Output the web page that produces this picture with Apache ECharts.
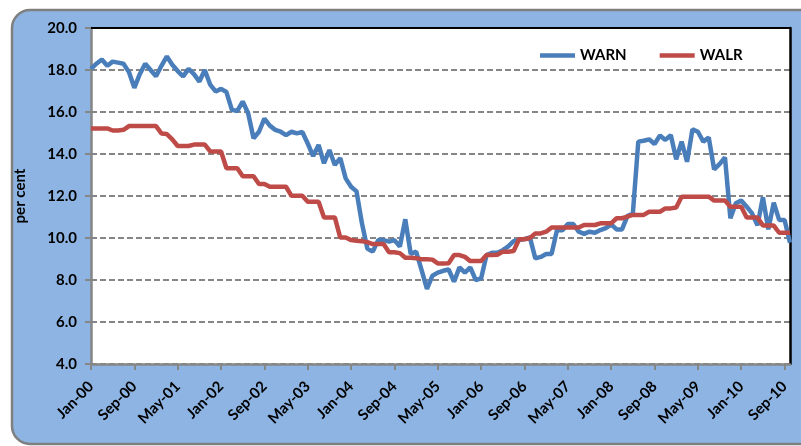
<!DOCTYPE html>
<html>
<head>
<meta charset="utf-8">
<script src="https://cdn.jsdelivr.net/npm/echarts@6/dist/echarts.min.js"></script>
<style>
  html, body { margin: 0; padding: 0; background: #ffffff; }
  #chart { width: 801px; height: 446px; }
</style>
</head>
<body>
<div id="chart"></div>
<script>
// Monthly series, January 2000 to October 2010 (per cent)
const monthNames = ['Jan','Feb','Mar','Apr','May','Jun','Jul','Aug','Sep','Oct','Nov','Dec'];
const startYear = 2000;
const monthCount = 130;

const warn = [
  18.05,18.3,18.5,18.2,18.4,18.35,18.3,17.9,17.15,17.8,18.3,18.0,
  17.7,18.2,18.65,18.25,17.95,17.7,18.05,17.8,17.45,18.0,17.3,16.98,
  17.1,16.95,16.1,16.05,16.5,15.94,14.75,15.06,15.68,15.35,15.15,15.06,
  14.9,15.06,14.98,15.05,14.5,13.9,14.43,13.56,14.19,13.48,13.8,12.84,
  12.44,12.22,10.7,9.5,9.35,9.9,9.9,9.83,9.9,9.59,10.89,9.24,
  9.35,8.48,7.58,8.2,8.35,8.44,8.5,7.92,8.6,8.35,8.6,8.0,
  8.08,9.19,9.3,9.3,9.42,9.6,9.85,9.9,9.95,10.03,9.03,9.1,
  9.24,9.24,10.38,10.37,10.67,10.67,10.3,10.2,10.3,10.25,10.38,10.47,
  10.65,10.41,10.41,11.05,11.17,14.59,14.63,14.7,14.48,14.88,14.67,14.9,
  13.75,14.59,13.63,15.17,15.06,14.59,14.79,13.27,13.52,13.84,10.94,11.65,
  11.78,11.49,11.17,10.6,11.94,10.41,11.68,10.86,10.86,9.78
];

const walr = [
  15.22,15.22,15.22,15.22,15.12,15.12,15.15,15.33,15.33,15.33,15.33,15.33,
  15.33,14.98,14.95,14.7,14.38,14.38,14.38,14.45,14.45,14.45,14.12,14.12,
  14.12,13.32,13.32,13.32,12.94,12.94,12.94,12.57,12.57,12.44,12.44,12.44,
  12.44,12.01,12.01,12.01,11.73,11.73,11.73,10.98,10.98,10.98,10.02,10.02,
  9.9,9.87,9.85,9.8,9.71,9.71,9.71,9.32,9.32,9.28,9.06,9.06,
  9.04,8.99,8.99,8.97,8.79,8.79,8.8,9.19,9.19,9.1,8.9,8.9,
  8.9,9.19,9.19,9.2,9.35,9.35,9.38,9.94,9.94,10.0,10.22,10.22,
  10.3,10.5,10.5,10.5,10.5,10.5,10.5,10.62,10.62,10.62,10.7,10.7,
  10.7,10.94,10.94,11.02,11.1,11.1,11.1,11.25,11.25,11.25,11.41,11.41,
  11.45,11.97,11.97,11.97,11.97,11.97,11.97,11.78,11.78,11.78,11.49,11.49,
  11.49,10.98,10.98,10.98,10.59,10.59,10.59,10.25,10.25,10.25
];

const seriesNames = ['WARN', 'WALR'];
const seriesColors = ['#4A7EBB', '#BE4B48'];
const yTicks = { min: 4, max: 20, step: 2 };

// "Jan-00", "Feb-00", ...
const categories = [];
for (let i = 0; i < monthCount; i++) {
  const y = startYear + Math.floor(i / 12);
  categories.push(monthNames[i % 12] + '-' + String(y % 100).padStart(2, '0'));
}

const FONT = 'Lato, "Liberation Sans", sans-serif';
const chart = echarts.init(document.getElementById('chart'), null, { renderer: 'canvas' });

chart.setOption({
  animation: false,
  backgroundColor: '#ffffff',
  graphic: [{
    type: 'rect',
    z: -10,
    silent: true,
    shape: { x: 12, y: 10, width: 820, height: 434, r: 18 },
    style: { fill: '#8DB4E2', stroke: '#7F7F7F', lineWidth: 2.5 }
  }],
  grid: {
    left: 91, right: 11, top: 28, bottom: 82,
    show: true, backgroundColor: '#ffffff', borderWidth: 0
  },
  legend: {
    data: seriesNames,
    left: 535, top: 43,
    icon: 'rect',
    itemWidth: 35, itemHeight: 4.5, itemGap: 33,
    textStyle: { fontFamily: FONT, fontWeight: 'bold', fontSize: 15, color: '#000' }
  },
  xAxis: [{
    type: 'category',
    data: categories,
    boundaryGap: false,
    axisLine: { lineStyle: { color: '#868686', width: 2.5 } },
    axisTick: { interval: 7, length: 6, lineStyle: { color: '#868686', width: 2 } },
    axisLabel: {
      interval: 7, rotate: 45, margin: 20,
      fontFamily: FONT, fontWeight: 'bold', fontSize: 15, color: '#000'
    },
    splitLine: { show: false }
  }, {
    type: 'category',
    data: categories,
    boundaryGap: false,
    position: 'top',
    axisLine: { lineStyle: { color: '#000', width: 2 } },
    axisTick: { show: false },
    axisLabel: { show: false }
  }],
  yAxis: [{
    type: 'value',
    min: yTicks.min, max: yTicks.max, interval: yTicks.step,
    name: 'per cent',
    nameLocation: 'middle',
    nameRotate: 90,
    nameGap: 63,
    nameTextStyle: { fontFamily: FONT, fontWeight: 'bold', fontSize: 15, color: '#000' },
    axisLine: { show: true, lineStyle: { color: '#868686', width: 2.5 } },
    axisTick: { show: true, length: 6, lineStyle: { color: '#868686', width: 2 } },
    axisLabel: {
      margin: 14,
      formatter: v => v.toFixed(1),
      fontFamily: FONT, fontWeight: 'bold', fontSize: 15, color: '#000'
    },
    splitLine: { lineStyle: { color: '#868686', width: 2, type: [6, 3] } }
  }, {
    type: 'value',
    position: 'right',
    min: yTicks.min, max: yTicks.max, interval: yTicks.step,
    axisLine: { show: true, lineStyle: { color: '#000', width: 2.5 } },
    axisTick: { show: false },
    axisLabel: { show: false },
    splitLine: { show: false }
  }],
  series: [{
    name: seriesNames[0],
    type: 'line',
    data: warn,
    showSymbol: false,
    color: seriesColors[0],
    lineStyle: { width: 4.5, color: seriesColors[0] }
  }, {
    name: seriesNames[1],
    type: 'line',
    data: walr,
    showSymbol: false,
    color: seriesColors[1],
    lineStyle: { width: 4.5, color: seriesColors[1] }
  }]
});
</script>
</body>
</html>
